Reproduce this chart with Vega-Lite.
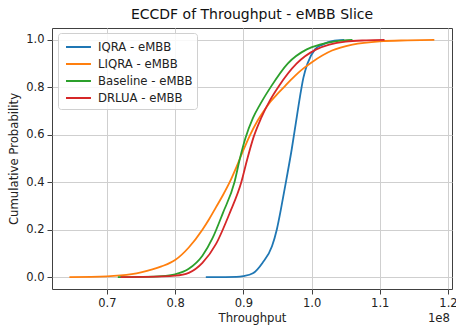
{
  "$schema": "https://vega.github.io/schema/vega-lite/v6.json",
  "width": 400,
  "height": 261,
  "autosize": {"type": "none"},
  "padding": {"left": 52, "top": 28, "right": 4, "bottom": 41},
  "background": "white",
  "config": {
    "font": "DejaVu Sans",
    "view": {"stroke": "#404040", "strokeWidth": 1},
    "axis": {
      "labelFont": "DejaVu Sans", "labelFontSize": 11.5, "labelColor": "#222",
      "titleFont": "DejaVu Sans", "titleFontSize": 11.7, "titleFontWeight": "normal", "titleColor": "#222",
      "gridColor": "#cfcfcf", "gridWidth": 1, "gridOpacity": 1,
      "tickColor": "#404040", "tickSize": 5, "tickWidth": 1,
      "domain": false, "labelPadding": 3
    },
    "legend": {
      "labelFont": "DejaVu Sans", "labelFontSize": 11.7, "labelColor": "#222"
    },
    "title": {"font": "DejaVu Sans", "fontSize": 14, "fontWeight": "normal", "color": "#111", "anchor": "middle", "offset": 6}
  },
  "title": "ECCDF of Throughput - eMBB Slice",
  "layer": [
    {
      "data": {
        "values": [
          {"model": "IQRA - eMBB", "throughput": 84500000, "p": 0},
          {"model": "IQRA - eMBB", "throughput": 87000000, "p": 0.0003},
          {"model": "IQRA - eMBB", "throughput": 89000000, "p": 0.001},
          {"model": "IQRA - eMBB", "throughput": 90000000, "p": 0.004},
          {"model": "IQRA - eMBB", "throughput": 91400000, "p": 0.016},
          {"model": "IQRA - eMBB", "throughput": 92800000, "p": 0.06},
          {"model": "IQRA - eMBB", "throughput": 94200000, "p": 0.13},
          {"model": "IQRA - eMBB", "throughput": 94900000, "p": 0.2},
          {"model": "IQRA - eMBB", "throughput": 95600000, "p": 0.3},
          {"model": "IQRA - eMBB", "throughput": 96300000, "p": 0.41},
          {"model": "IQRA - eMBB", "throughput": 97100000, "p": 0.54},
          {"model": "IQRA - eMBB", "throughput": 97700000, "p": 0.65},
          {"model": "IQRA - eMBB", "throughput": 98300000, "p": 0.76},
          {"model": "IQRA - eMBB", "throughput": 98800000, "p": 0.84},
          {"model": "IQRA - eMBB", "throughput": 99400000, "p": 0.9},
          {"model": "IQRA - eMBB", "throughput": 100500000, "p": 0.96},
          {"model": "IQRA - eMBB", "throughput": 101600000, "p": 0.98},
          {"model": "IQRA - eMBB", "throughput": 103000000, "p": 0.995},
          {"model": "IQRA - eMBB", "throughput": 104800000, "p": 1.0},

          {"model": "LIQRA - eMBB", "throughput": 64500000, "p": 0},
          {"model": "LIQRA - eMBB", "throughput": 70000000, "p": 0.003},
          {"model": "LIQRA - eMBB", "throughput": 72000000, "p": 0.007},
          {"model": "LIQRA - eMBB", "throughput": 75000000, "p": 0.02},
          {"model": "LIQRA - eMBB", "throughput": 78000000, "p": 0.045},
          {"model": "LIQRA - eMBB", "throughput": 80000000, "p": 0.072},
          {"model": "LIQRA - eMBB", "throughput": 82000000, "p": 0.125},
          {"model": "LIQRA - eMBB", "throughput": 84000000, "p": 0.2},
          {"model": "LIQRA - eMBB", "throughput": 85000000, "p": 0.245},
          {"model": "LIQRA - eMBB", "throughput": 86000000, "p": 0.295},
          {"model": "LIQRA - eMBB", "throughput": 87000000, "p": 0.345},
          {"model": "LIQRA - eMBB", "throughput": 88000000, "p": 0.4},
          {"model": "LIQRA - eMBB", "throughput": 89000000, "p": 0.465},
          {"model": "LIQRA - eMBB", "throughput": 90000000, "p": 0.535},
          {"model": "LIQRA - eMBB", "throughput": 91000000, "p": 0.6},
          {"model": "LIQRA - eMBB", "throughput": 92000000, "p": 0.655},
          {"model": "LIQRA - eMBB", "throughput": 93000000, "p": 0.7},
          {"model": "LIQRA - eMBB", "throughput": 94000000, "p": 0.74},
          {"model": "LIQRA - eMBB", "throughput": 95000000, "p": 0.772},
          {"model": "LIQRA - eMBB", "throughput": 96000000, "p": 0.802},
          {"model": "LIQRA - eMBB", "throughput": 97000000, "p": 0.832},
          {"model": "LIQRA - eMBB", "throughput": 98000000, "p": 0.86},
          {"model": "LIQRA - eMBB", "throughput": 99000000, "p": 0.884},
          {"model": "LIQRA - eMBB", "throughput": 100000000, "p": 0.905},
          {"model": "LIQRA - eMBB", "throughput": 103000000, "p": 0.955},
          {"model": "LIQRA - eMBB", "throughput": 106000000, "p": 0.98},
          {"model": "LIQRA - eMBB", "throughput": 110000000, "p": 0.994},
          {"model": "LIQRA - eMBB", "throughput": 114000000, "p": 0.998},
          {"model": "LIQRA - eMBB", "throughput": 118000000, "p": 1.0},

          {"model": "Baseline - eMBB", "throughput": 71600000, "p": 0},
          {"model": "Baseline - eMBB", "throughput": 75000000, "p": 0.001},
          {"model": "Baseline - eMBB", "throughput": 78000000, "p": 0.004},
          {"model": "Baseline - eMBB", "throughput": 80000000, "p": 0.012},
          {"model": "Baseline - eMBB", "throughput": 82000000, "p": 0.035},
          {"model": "Baseline - eMBB", "throughput": 84000000, "p": 0.09},
          {"model": "Baseline - eMBB", "throughput": 85500000, "p": 0.165},
          {"model": "Baseline - eMBB", "throughput": 87000000, "p": 0.27},
          {"model": "Baseline - eMBB", "throughput": 88700000, "p": 0.4},
          {"model": "Baseline - eMBB", "throughput": 89500000, "p": 0.5},
          {"model": "Baseline - eMBB", "throughput": 90300000, "p": 0.585},
          {"model": "Baseline - eMBB", "throughput": 91400000, "p": 0.67},
          {"model": "Baseline - eMBB", "throughput": 92500000, "p": 0.73},
          {"model": "Baseline - eMBB", "throughput": 94100000, "p": 0.805},
          {"model": "Baseline - eMBB", "throughput": 96500000, "p": 0.9},
          {"model": "Baseline - eMBB", "throughput": 99300000, "p": 0.96},
          {"model": "Baseline - eMBB", "throughput": 101200000, "p": 0.98},
          {"model": "Baseline - eMBB", "throughput": 103500000, "p": 0.994},
          {"model": "Baseline - eMBB", "throughput": 106000000, "p": 1.0},

          {"model": "DRLUA - eMBB", "throughput": 72000000, "p": 0},
          {"model": "DRLUA - eMBB", "throughput": 76000000, "p": 0.001},
          {"model": "DRLUA - eMBB", "throughput": 80000000, "p": 0.006},
          {"model": "DRLUA - eMBB", "throughput": 82000000, "p": 0.018},
          {"model": "DRLUA - eMBB", "throughput": 84000000, "p": 0.06},
          {"model": "DRLUA - eMBB", "throughput": 86000000, "p": 0.14},
          {"model": "DRLUA - eMBB", "throughput": 88000000, "p": 0.27},
          {"model": "DRLUA - eMBB", "throughput": 89700000, "p": 0.4},
          {"model": "DRLUA - eMBB", "throughput": 90600000, "p": 0.5},
          {"model": "DRLUA - eMBB", "throughput": 91500000, "p": 0.59},
          {"model": "DRLUA - eMBB", "throughput": 92600000, "p": 0.67},
          {"model": "DRLUA - eMBB", "throughput": 93900000, "p": 0.745},
          {"model": "DRLUA - eMBB", "throughput": 95200000, "p": 0.805},
          {"model": "DRLUA - eMBB", "throughput": 97800000, "p": 0.9},
          {"model": "DRLUA - eMBB", "throughput": 100700000, "p": 0.96},
          {"model": "DRLUA - eMBB", "throughput": 102600000, "p": 0.98},
          {"model": "DRLUA - eMBB", "throughput": 105000000, "p": 0.993},
          {"model": "DRLUA - eMBB", "throughput": 108000000, "p": 0.998},
          {"model": "DRLUA - eMBB", "throughput": 110700000, "p": 1.0}
        ]
      },
      "mark": {"type": "line", "strokeWidth": 1.8, "interpolate": "monotone"},
      "encoding": {
        "x": {
          "field": "throughput", "type": "quantitative",
          "scale": {"domain": [61950000, 120590000], "nice": false, "zero": false},
          "axis": {
            "title": "Throughput",
            "values": [70000000, 80000000, 90000000, 100000000, 110000000, 120000000],
            "labelExpr": "format(datum.value / 100000000, '.1f')",
            "titlePadding": 4
          }
        },
        "y": {
          "field": "p", "type": "quantitative",
          "scale": {"domain": [-0.05, 1.05], "nice": false, "zero": false},
          "axis": {
            "title": "Cumulative Probability",
            "values": [0, 0.2, 0.4, 0.6, 0.8, 1.0],
            "format": ".1f",
            "titlePadding": 6
          }
        },
        "color": {
          "field": "model", "type": "nominal",
          "scale": {
            "domain": ["IQRA - eMBB", "LIQRA - eMBB", "Baseline - eMBB", "DRLUA - eMBB"],
            "range": ["#1f77b4", "#ff7f0e", "#2ca02c", "#d62728"]
          },
          "legend": {
            "title": null,
            "orient": "none",
            "legendX": 6,
            "legendY": 5,
            "symbolType": "M-0.69,0H2.19",
            "symbolSize": 300,
            "symbolStrokeWidth": 2,
            "labelOffset": 16,
            "rowPadding": 0,
            "padding": 4,
            "fillColor": "rgba(255,255,255,0.85)",
            "strokeColor": "#d0d0d0",
            "cornerRadius": 3
          }
        }
      }
    },
    {
      "data": {"values": [{}]},
      "mark": {"type": "text", "text": "1e8", "align": "right", "baseline": "middle", "dy": 29, "dx": -2, "fontSize": 11.7, "color": "#222"},
      "encoding": {
        "x": {"datum": 120590000, "type": "quantitative"},
        "y": {"datum": -0.05, "type": "quantitative"}
      }
    }
  ]
}
